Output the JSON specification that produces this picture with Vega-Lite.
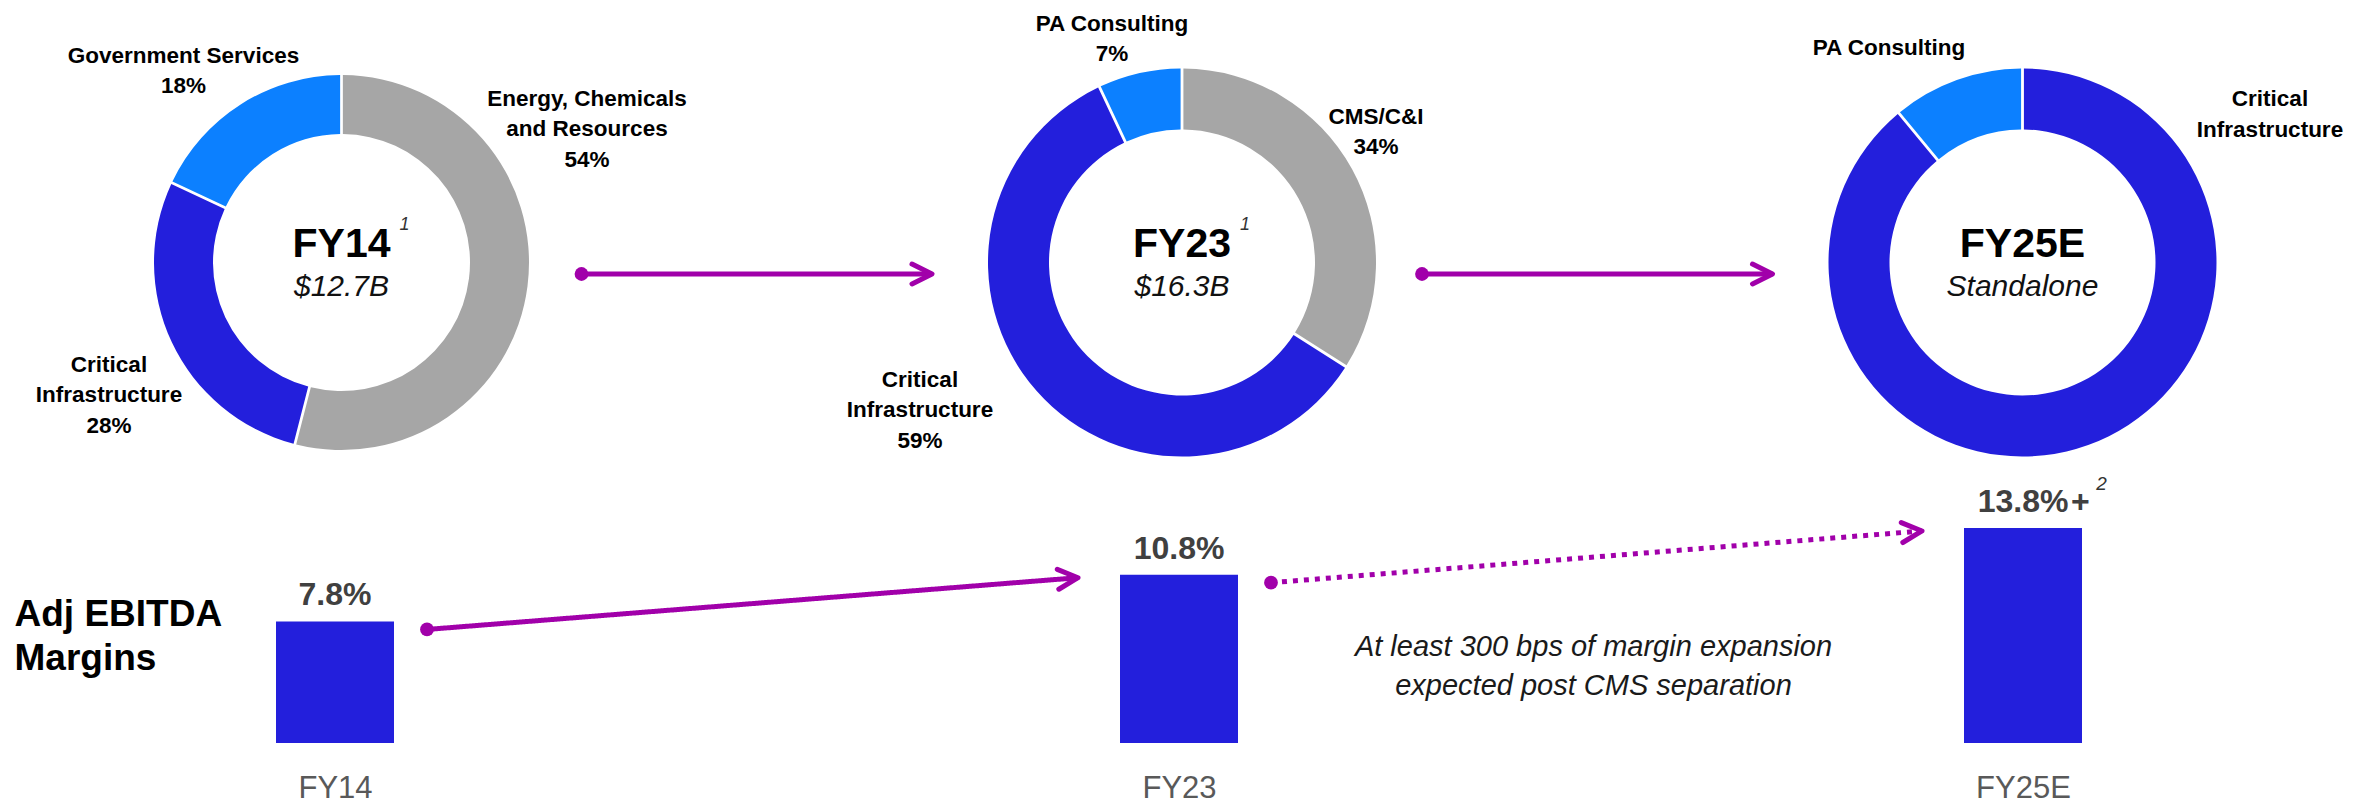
{
  "$schema": "https://vega.github.io/schema/vega-lite/v6.json",
  "padding": 0,
  "background": "white",
  "bounds": "flush",
  "spacing": 0,
  "config": {"view": {"stroke": null}, "concat": {"spacing": 0}},
  "datasets": {
    "mix": [
      {"year": "FY14", "segment": "Energy, Chemicals and Resources", "pct": 54},
      {"year": "FY14", "segment": "Critical Infrastructure", "pct": 28},
      {"year": "FY14", "segment": "Government Services", "pct": 18},
      {"year": "FY23", "segment": "CMS/C&I", "pct": 34},
      {"year": "FY23", "segment": "Critical Infrastructure", "pct": 59},
      {"year": "FY23", "segment": "PA Consulting", "pct": 7},
      {"year": "FY25E", "segment": "Critical Infrastructure", "pct": 89},
      {"year": "FY25E", "segment": "PA Consulting", "pct": 11}
    ],
    "totals": [
      {"year": "FY14", "revenue": "$12.7B", "note": "1"},
      {"year": "FY23", "revenue": "$16.3B", "note": "1"},
      {"year": "FY25E", "revenue": "Standalone", "note": ""}
    ],
    "margins": [
      {"year": "FY14", "margin": 7.8, "qualifier": "", "note": ""},
      {"year": "FY23", "margin": 10.8, "qualifier": "", "note": ""},
      {"year": "FY25E", "margin": 13.8, "qualifier": "+", "note": "2"}
    ],
    "steps": [
      {"from": "FY14", "to": "FY23", "status": "Actual", "comment": ""},
      {"from": "FY23", "to": "FY25E", "status": "Target", "comment": "At least 300 bps of margin expansion\nexpected post CMS separation"}
    ]
  },
  "vconcat": [
    {
      "width": 2369,
      "height": 525,
      "layer": [
        {
          "data": {"name": "steps"},
          "layer": [
            {
              "mark": {"type": "rule", "color": "#A100AA", "strokeWidth": 5, "xOffset": 240, "x2Offset": -250, "yOffset": 11.5, "y2Offset": 11.5},
              "encoding": {
                "x": {"field": "from", "type": "nominal", "scale": {"type": "point", "domain": ["FY14", "FY23", "FY25E"], "range": [341.5, 2022.5], "padding": 0}, "axis": null},
                "x2": {"field": "to"}
              }
            },
            {
              "mark": {"type": "circle", "color": "#A100AA", "opacity": 1, "size": 190, "xOffset": 240, "yOffset": 11.5},
              "encoding": {
                "x": {"field": "from", "type": "nominal", "scale": {"type": "point", "domain": ["FY14", "FY23", "FY25E"], "range": [341.5, 2022.5], "padding": 0}, "axis": null}
              }
            },
            {
              "mark": {"type": "point", "shape": "M-1,-0.5L0,0L-1,0.5", "filled": false, "fill": null, "stroke": "#A100AA", "strokeWidth": 5, "strokeCap": "round", "strokeJoin": "round", "opacity": 1, "size": 1600, "xOffset": -250, "yOffset": 11.5},
              "encoding": {
                "x": {"field": "to", "type": "nominal", "scale": {"type": "point", "domain": ["FY14", "FY23", "FY25E"], "range": [341.5, 2022.5], "padding": 0}, "axis": null}
              }
            }
          ]
        },
        {
          "data": {"name": "mix"},
          "transform": [{"stack": "pct", "groupby": ["year"], "as": ["start", "end"]}],
          "encoding": {
            "x": {"field": "year", "type": "nominal", "scale": {"type": "point", "domain": ["FY14", "FY23", "FY25E"], "range": [341.5, 2022.5], "padding": 0}, "axis": null},
            "theta": {"field": "start", "type": "quantitative", "scale": {"domain": [0, 100], "range": [0, 6.283185307]}, "stack": null},
            "theta2": {"field": "end"},
            "color": {
              "field": "segment", "type": "nominal", "legend": null,
              "scale": {
                "domain": ["Energy, Chemicals and Resources", "CMS/C&I", "Critical Infrastructure", "Government Services", "PA Consulting"],
                "range": ["#A6A6A6", "#A6A6A6", "#231FDC", "#0C80FF", "#0C80FF"]
              }
            }
          },
          "layer": [
            {
              "transform": [{"filter": "datum.year == 'FY14'"}],
              "mark": {"type": "arc", "outerRadius": 187.5, "innerRadius": 128.5, "padAngle": 0.012}
            },
            {
              "transform": [{"filter": "datum.year != 'FY14'"}],
              "mark": {"type": "arc", "outerRadius": 194, "innerRadius": 133, "padAngle": 0.012}
            }
          ]
        },
        {
          "data": {"name": "mix"},
          "transform": [
            {"calculate": "(datum.segment == 'Critical Infrastructure' ? 'Critical\\nInfrastructure' : datum.segment == 'Energy, Chemicals and Resources' ? 'Energy, Chemicals\\nand Resources' : datum.segment) + (datum.year == 'FY25E' ? '' : '\\n' + datum.pct + '%')", "as": "lbl"}
          ],
          "encoding": {
            "x": {"field": "year", "type": "nominal", "scale": {"type": "point", "domain": ["FY14", "FY23", "FY25E"], "range": [341.5, 2022.5], "padding": 0}, "axis": null},
            "text": {"field": "lbl"}
          },
          "layer": [
            {"transform": [{"filter": "datum.year == 'FY14' && datum.segment == 'Government Services'"}],
             "mark": {"type": "text", "font": "Liberation Sans", "fontSize": 22.5, "fontWeight": "bold", "color": "#000000", "align": "center", "baseline": "alphabetic", "lineBreak": "\n", "lineHeight": 30.5, "dx": -158, "dy": -200}},
            {"transform": [{"filter": "datum.year == 'FY14' && datum.segment == 'Energy, Chemicals and Resources'"}],
             "mark": {"type": "text", "font": "Liberation Sans", "fontSize": 22.5, "fontWeight": "bold", "color": "#000000", "align": "center", "baseline": "alphabetic", "lineBreak": "\n", "lineHeight": 30.5, "dx": 245.5, "dy": -157}},
            {"transform": [{"filter": "datum.year == 'FY14' && datum.segment == 'Critical Infrastructure'"}],
             "mark": {"type": "text", "font": "Liberation Sans", "fontSize": 22.5, "fontWeight": "bold", "color": "#000000", "align": "center", "baseline": "alphabetic", "lineBreak": "\n", "lineHeight": 30.5, "dx": -232.5, "dy": 109}},
            {"transform": [{"filter": "datum.year == 'FY23' && datum.segment == 'PA Consulting'"}],
             "mark": {"type": "text", "font": "Liberation Sans", "fontSize": 22.5, "fontWeight": "bold", "color": "#000000", "align": "center", "baseline": "alphabetic", "lineBreak": "\n", "lineHeight": 30.5, "dx": -70, "dy": -232}},
            {"transform": [{"filter": "datum.year == 'FY23' && datum.segment == 'CMS/C&I'"}],
             "mark": {"type": "text", "font": "Liberation Sans", "fontSize": 22.5, "fontWeight": "bold", "color": "#000000", "align": "center", "baseline": "alphabetic", "lineBreak": "\n", "lineHeight": 30.5, "dx": 194, "dy": -139}},
            {"transform": [{"filter": "datum.year == 'FY23' && datum.segment == 'Critical Infrastructure'"}],
             "mark": {"type": "text", "font": "Liberation Sans", "fontSize": 22.5, "fontWeight": "bold", "color": "#000000", "align": "center", "baseline": "alphabetic", "lineBreak": "\n", "lineHeight": 30.5, "dx": -262, "dy": 124}},
            {"transform": [{"filter": "datum.year == 'FY25E' && datum.segment == 'PA Consulting'"}],
             "mark": {"type": "text", "font": "Liberation Sans", "fontSize": 22.5, "fontWeight": "bold", "color": "#000000", "align": "center", "baseline": "alphabetic", "lineBreak": "\n", "lineHeight": 30.5, "dx": -133.5, "dy": -207.5}},
            {"transform": [{"filter": "datum.year == 'FY25E' && datum.segment == 'Critical Infrastructure'"}],
             "mark": {"type": "text", "font": "Liberation Sans", "fontSize": 22.5, "fontWeight": "bold", "color": "#000000", "align": "center", "baseline": "alphabetic", "lineBreak": "\n", "lineHeight": 30.5, "dx": 247.5, "dy": -156.5}}
          ]
        },
        {
          "data": {"name": "totals"},
          "encoding": {
            "x": {"field": "year", "type": "nominal", "scale": {"type": "point", "domain": ["FY14", "FY23", "FY25E"], "range": [341.5, 2022.5], "padding": 0}, "axis": null}
          },
          "layer": [
            {"mark": {"type": "text", "font": "Liberation Sans", "fontSize": 41, "fontWeight": "bold", "color": "#000000", "align": "center", "baseline": "alphabetic", "dy": -6},
             "encoding": {"text": {"field": "year"}}},
            {"mark": {"type": "text", "font": "Liberation Sans", "fontSize": 30, "fontStyle": "italic", "color": "#111111", "align": "center", "baseline": "alphabetic", "dy": 33.5},
             "encoding": {"text": {"field": "revenue"}}},
            {"mark": {"type": "text", "font": "Liberation Sans", "fontSize": 18, "fontStyle": "italic", "color": "#333333", "align": "center", "baseline": "alphabetic", "dx": 63, "dy": -32.5},
             "encoding": {"text": {"field": "note"}}}
          ]
        }
      ]
    },
    {
      "width": 2369,
      "height": 218,
      "encoding": {
        "x": {
          "field": "year", "type": "nominal",
          "scale": {"type": "point", "domain": ["FY14", "FY23", "FY25E"], "range": [335, 2023], "padding": 0},
          "axis": {"title": null, "domain": false, "ticks": false, "tickSize": 0, "grid": false, "labelAngle": 0, "labelFont": "Liberation Sans", "labelFontSize": 31, "labelColor": "#595959", "labelPadding": 30, "labelOverlap": false, "labelFlush": false}
        },
        "y": {
          "field": "margin", "type": "quantitative",
          "scale": {"domain": [0, 13.99], "nice": false, "zero": true},
          "axis": {"title": ["Adj EBITDA", "Margins"], "labels": false, "ticks": false, "domain": false, "grid": false, "titleAngle": 0, "titleAlign": "left", "titleBaseline": "alphabetic", "titleX": 14, "titleY": 100, "titleFont": "Liberation Sans", "titleFontSize": 37, "titleFontWeight": "bold", "titleColor": "#000000", "titleLineHeight": 44}
        }
      },
      "layer": [
        {
          "data": {"name": "steps"},
          "transform": [
            {"calculate": "datum.from", "as": "year"},
            {"lookup": "year", "from": {"data": {"name": "margins"}, "key": "year", "fields": ["margin"]}, "as": ["margin"]},
            {"lookup": "to", "from": {"data": {"name": "margins"}, "key": "year", "fields": ["margin"]}, "as": ["margin2"]}
          ],
          "layer": [
            {
              "mark": {"type": "rule", "color": "#A100AA", "strokeWidth": 5, "xOffset": 92, "x2Offset": -101, "yOffset": 8, "y2Offset": 3},
              "encoding": {
                "x2": {"field": "to"},
                "y2": {"field": "margin2"},
                "strokeDash": {"field": "status", "type": "nominal", "scale": {"domain": ["Actual", "Target"], "range": [[1, 0], [5, 6]]}, "legend": null}
              }
            },
            {
              "mark": {"type": "circle", "color": "#A100AA", "opacity": 1, "size": 190, "xOffset": 92, "yOffset": 8}
            },
            {
              "transform": [
                {"calculate": "datum.to", "as": "year"},
                {"calculate": "datum.margin2", "as": "margin"}
              ],
              "mark": {"type": "point", "shape": "M-1,-0.5L0,0L-1,0.5", "filled": false, "fill": null, "stroke": "#A100AA", "strokeWidth": 5, "strokeCap": "round", "strokeJoin": "round", "opacity": 1, "size": 1600, "angle": -4.5, "xOffset": -101, "yOffset": 3}
            },
            {
              "transform": [{"filter": "datum.comment != ''"}],
              "mark": {"type": "text", "font": "Liberation Sans", "fontSize": 29, "fontStyle": "italic", "color": "#1A1A1A", "align": "center", "baseline": "alphabetic", "lineBreak": "\n", "lineHeight": 39, "dx": 414.5, "dy": 81},
              "encoding": {"text": {"field": "comment"}}
            }
          ]
        },
        {
          "data": {"name": "margins"},
          "transform": [{"calculate": "format(datum.margin, '.1f') + '%'", "as": "mlabel"}],
          "layer": [
            {"mark": {"type": "bar", "width": 118, "color": "#231FDC"}},
            {"mark": {"type": "text", "font": "Liberation Sans", "fontSize": 32, "fontWeight": "bold", "color": "#404040", "align": "center", "baseline": "alphabetic", "dy": -16},
             "encoding": {"text": {"field": "mlabel"}}},
            {"transform": [{"filter": "datum.qualifier != ''"}],
             "mark": {"type": "text", "font": "Liberation Sans", "fontSize": 32, "fontWeight": "bold", "color": "#404040", "align": "left", "baseline": "alphabetic", "dx": 48, "dy": -16},
             "encoding": {"text": {"field": "qualifier"}}},
            {"transform": [{"filter": "datum.note != ''"}],
             "mark": {"type": "text", "font": "Liberation Sans", "fontSize": 19, "fontStyle": "italic", "color": "#333333", "align": "center", "baseline": "alphabetic", "dx": 78.5, "dy": -38},
             "encoding": {"text": {"field": "note"}}}
          ]
        }
      ]
    }
  ]
}
